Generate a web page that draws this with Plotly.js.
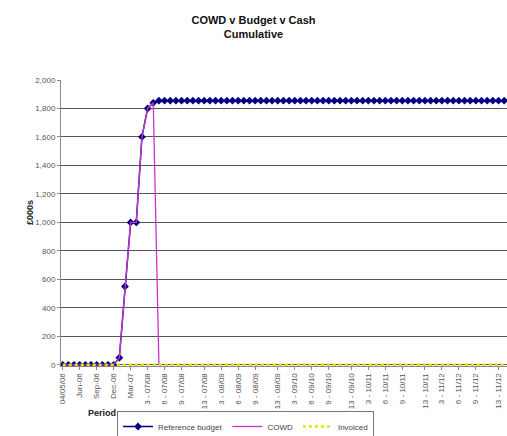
<!DOCTYPE html>
<html><head><meta charset="utf-8">
<script src="https://cdn.plot.ly/plotly-3.0.1.min.js"></script>
<style>html,body{margin:0;padding:0;background:#fff;}</style>
</head><body>
<div id="chart" style="width:507px;height:436px;"></div>
<script>
// category index of each period (0..79)
const categoryIndex = [0,1,2,3,4,5,6,7,8,9,10,11,12,13,14,15,16,17,18,19,20,21,22,23,24,25,26,27,28,29,30,31,32,33,34,35,36,37,38,39,40,41,42,43,44,45,46,47,48,49,50,51,52,53,54,55,56,57,58,59,60,61,62,63,64,65,66,67,68,69,70,71,72,73,74,75,76,77,78,79];
const referenceBudget = [0,0,0,0,0,0,0,0,0,0,50,550,1000,1000,1600,1800,1840,1855,1855,1855,1855,1855,1855,1855,1855,1855,1855,1855,1855,1855,1855,1855,1855,1855,1855,1855,1855,1855,1855,1855,1855,1855,1855,1855,1855,1855,1855,1855,1855,1855,1855,1855,1855,1855,1855,1855,1855,1855,1855,1855,1855,1855,1855,1855,1855,1855,1855,1855,1855,1855,1855,1855,1855,1855,1855,1855,1855,1855,1855,1855];
const cowdIndex = [0,1,2,3,4,5,6,7,8,9,10,11,12,13,14,15,16,17];
const cowd = [0,0,0,0,0,0,0,0,0,0,50,550,1000,1000,1600,1800,1840,0];
const invoiced = [0,0,0,0,0,0,0,0,0,0,0,0,0,0,0,0,0,0,0,0,0,0,0,0,0,0,0,0,0,0,0,0,0,0,0,0,0,0,0,0,0,0,0,0,0,0,0,0,0,0,0,0,0,0,0,0,0,0,0,0,0,0,0,0,0,0,0,0,0,0,0,0,0,0,0,0,0,0,0,0];
const tickIndex = [0,3,6,9,12,15,18,21,25,28,31,34,38,41,44,47,51,54,57,60,64,67,70,73,77];
const tickLabels = ["04/05/06","Jun-06","Sep-06","Dec-06","Mar-07",
  "3 - 07/08","6 - 07/08","9 - 07/08","13 - 07/08",
  "3 - 08/09","6 - 08/09","9 - 08/09","13 - 08/09",
  "3 - 09/10","6 - 09/10","9 - 09/10","13 - 09/10",
  "3 - 10/11","6 - 10/11","9 - 10/11","13 - 10/11",
  "3 - 11/12","6 - 11/12","9 - 11/12","13 - 11/12"];
const yTicks = [0,200,400,600,800,1000,1200,1400,1600,1800,2000];

const font = "Liberation Sans, Arial, sans-serif";
const traces = [
  {x: categoryIndex, y: referenceBudget, name: "Reference budget", type: "scatter", mode: "lines+markers",
   line: {color: "#000080", width: 1.5}, marker: {symbol: "diamond", size: 6, color: "#000080"}},
  {x: cowdIndex, y: cowd, name: "COWD", type: "scatter", mode: "lines",
   line: {color: "#cc33cc", width: 1.3}},
  {x: categoryIndex, y: invoiced, name: "Invoiced", type: "scatter", mode: "lines",
   line: {color: "#e4e400", width: 2.5, dash: "dot"}}
];
const layout = {
  width: 507, height: 436,
  margin: {l: 61, r: 0, t: 80, b: 70},
  paper_bgcolor: "#ffffff", plot_bgcolor: "#ffffff",
  font: {family: font, size: 8, color: "#444"},
  title: {text: "<b>COWD v Budget v Cash<br>Cumulative</b>", font: {family: font, size: 11, color: "#111"},
          x: 0.5, xref: "container", xanchor: "center", yref: "container", y: 1 - 24/436, yanchor: "top",
          automargin: false},
  xaxis: {range: [-0.3, 78.5], tickmode: "array", tickvals: tickIndex, ticktext: tickLabels, automargin: false,
          tickangle: -90, showgrid: false, zeroline: false, showline: true, linecolor: "#888", linewidth: 1,
          layer: "below traces",
          ticks: "outside", ticklen: 3, tickcolor: "#888", tickfont: {size: 8, color: "#555"}},
  yaxis: {range: [-8, 2000], tickmode: "array", tickvals: yTicks, tickformat: ",d", automargin: false,
          showgrid: true, gridcolor: "#555555", gridwidth: 1, zeroline: false, showline: true, linecolor: "#888",
          layer: "below traces",
          ticks: "outside", ticklen: 3, tickcolor: "#888", tickfont: {size: 8, color: "#555"}},
  showlegend: true,
  legend: {orientation: "h", xref: "container", x: 117/507, xanchor: "left", yref: "container", y: 25/436, yanchor: "top",
           bordercolor: "#777", borderwidth: 1, font: {size: 8, color: "#444"}, bgcolor: "#fff",
           tracegroupgap: 0, itemwidth: 30},
  annotations: [
    {text: "<b>Period</b>", xref: "paper", yref: "paper", x: (102-61)/446, y: (366-413)/286,
     xanchor: "center", yanchor: "middle", showarrow: false, font: {family: font, size: 9, color: "#222"}},
    {text: "<b>£000s</b>", xref: "paper", yref: "paper", x: (30-61)/446, y: (366-212)/286,
     xanchor: "center", yanchor: "middle", textangle: -90, showarrow: false, font: {family: font, size: 9, color: "#222"}}
  ]
};
Plotly.newPlot("chart", traces, layout, {displayModeBar: false, staticPlot: true});
</script>
</body></html>
